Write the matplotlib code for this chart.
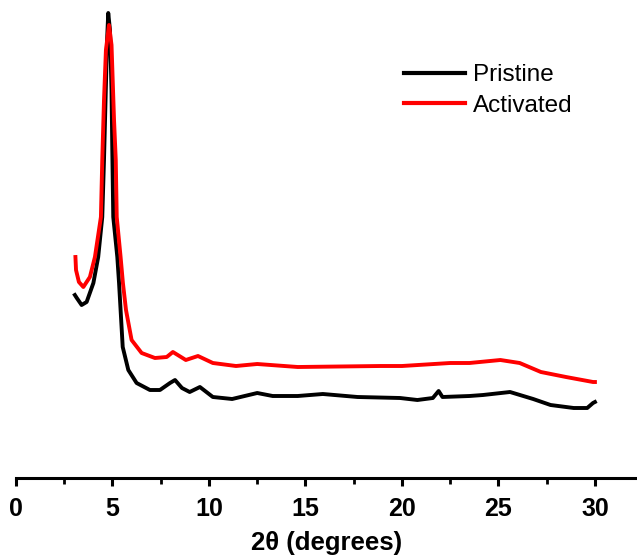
import numpy as np
from matplotlib import pyplot as plt
from matplotlib.ticker import MultipleLocator

plt.rcParams['font.family'] = ['Liberation Sans', 'DejaVu Sans']

# 2theta (degrees) and intensity (a.u.)
x_pristine = [3.05, 3.15, 3.40, 3.66, 4.01, 4.26, 4.47, 4.56, 4.64, 4.72, 4.78,
              4.87, 4.95, 4.99, 5.04, 5.25, 5.34, 5.42, 5.53, 5.82, 6.25, 6.94,
              7.46, 7.98, 8.24, 8.6, 9.0, 9.53, 10.2, 11.2, 12.5, 13.3, 14.6,
              15.9, 17.7, 19.9, 20.8, 21.6, 21.9, 22.1, 23.5, 24.2, 25.6,
              26.8, 27.7, 28.9, 29.6, 29.9, 30.0]
y_pristine = [1830, 1800, 1730, 1760, 1950, 2210, 2610, 3180, 3780, 4380, 4650,
              4480, 3880, 3280, 2610, 2210, 1950, 1680, 1310, 1080, 950, 880,
              880, 950, 980, 900, 860, 910, 810, 790, 850, 820, 820,
              840, 810, 800, 780, 800, 870, 810, 820, 830, 860,
              790, 730, 700, 700, 750, 760]

x_activated = [3.08, 3.11, 3.26, 3.49, 3.83, 4.09, 4.40, 4.47, 4.56, 4.66, 4.82,
               4.95, 5.08, 5.17, 5.22, 5.42, 5.54, 5.70, 5.99, 6.51, 7.20, 7.81,
               8.13, 8.8, 9.43, 10.2, 11.4, 12.5, 14.6, 18.9, 20.0, 22.5, 23.5,
               25.1, 26.1, 27.2, 28.5, 29.9, 30.0]
y_activated = [2210, 2080, 1960, 1910, 2010, 2210, 2610, 3180, 3780, 4280, 4530,
               4330, 3580, 3180, 2610, 2210, 1950, 1680, 1380, 1250, 1200, 1210,
               1260, 1180, 1220, 1150, 1120, 1140, 1110, 1120, 1120, 1150, 1150,
               1180, 1150, 1060, 1010, 960, 960]

fig = plt.figure(figsize=(6.37, 5.57), dpi=100)
ax = fig.add_axes([16 / 637, 1 - 478 / 557, 1 - 16 / 637, 478 / 557])

ax.plot(x_pristine, y_pristine, color='black', lw=2.8, label='Pristine')
ax.plot(x_activated, y_activated, color='#ff0000', lw=2.8, label='Activated')

ax.set_xlim(0, 32.18)
ax.set_ylim(0, 4780)

for s in ['left', 'right', 'top']:
    ax.spines[s].set_visible(False)
ax.spines['bottom'].set_linewidth(2.2)
ax.set_yticks([])

ax.xaxis.set_major_locator(MultipleLocator(5))
ax.xaxis.set_minor_locator(MultipleLocator(2.5))
ax.tick_params(axis='x', which='major', direction='out', length=6, width=2.2,
               labelsize=18, pad=8)
ax.tick_params(axis='x', which='minor', direction='out', length=4, width=2.0)
for lbl in ax.get_xticklabels():
    lbl.set_fontweight('bold')
ax.set_xlabel('2θ (degrees)', fontsize=18.5, fontweight='bold', labelpad=7)

leg = ax.legend(loc='upper left', bbox_to_anchor=(404 / 637, 1 - 64 / 557),
                bbox_transform=fig.transFigure, frameon=False, fontsize=17.5,
                handlelength=2.5, handletextpad=0.33, labelspacing=0.35,
                borderpad=0, borderaxespad=0)
for line in leg.get_lines():
    line.set_linewidth(3)

fig.savefig('out.png', dpi=100)
